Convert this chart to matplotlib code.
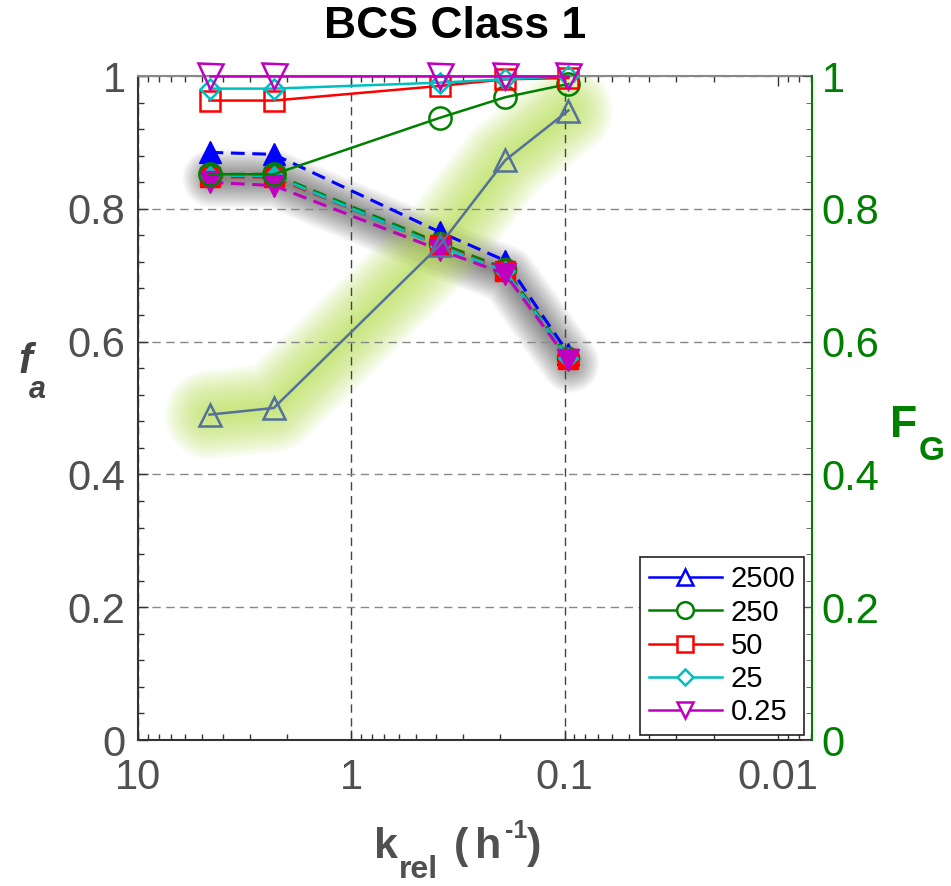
import matplotlib
matplotlib.use('Agg')
import matplotlib.pyplot as plt
from matplotlib.lines import Line2D
from matplotlib.ticker import MultipleLocator, LogLocator, NullFormatter
import matplotlib.transforms as mtransforms

plt.rcParams['font.family'] = ['Liberation Sans', 'DejaVu Sans']

# ---------------- data ----------------
k_rel = [4.62, 2.31, 0.385, 0.19, 0.096]
doses = ['2500', '250', '50', '25', '0.25']
colors = ['#0000ff', '#008000', '#ff0000', '#00bfbf', '#bf00bf']
markers = ['^', 'o', 's', 'D', 'v']

fa_2500 = [0.885, 0.882, 0.765, 0.722, 0.582]
fa_250 = [0.852, 0.852, 0.748, 0.710, 0.576]
fa_50 = [0.848, 0.848, 0.745, 0.707, 0.574]
fa_25 = [0.850, 0.850, 0.744, 0.706, 0.575]
fa_0_25 = [0.840, 0.835, 0.738, 0.702, 0.572]

FG_2500 = [0.490, 0.500, 0.745, 0.873, 0.948]
FG_250 = [0.852, 0.852, 0.937, 0.968, 0.988]
FG_50 = [0.963, 0.963, 0.985, 0.995, 0.997]
FG_25 = [0.981, 0.981, 0.990, 0.995, 1.000]
FG_0_25 = [1.000, 1.000, 1.000, 1.000, 1.000]

fa_series = [fa_2500, fa_250, fa_50, fa_25, fa_0_25]
FG_series = [FG_2500, FG_250, FG_50, FG_25, FG_0_25]

y_ticks = [0, 0.2, 0.4, 0.6, 0.8, 1.0]
y_ticklabels = ['0', '0.2', '0.4', '0.6', '0.8', '1']
x_ticks = [10, 1, 0.1, 0.01]
x_ticklabels = ['10', '1', '0.1', '0.01']

# ---------------- figure ----------------
W, H = 951, 886
fig = plt.figure(figsize=(W / 100, H / 100), dpi=100)
ax = fig.add_axes([138 / W, 1 - 740 / H, 674 / W, 664 / H])
ax.set_xscale('log')
ax.set_xlim(10, 10 ** (1 - 674 / 213.3))
ax.set_ylim(0, 1)

tick_grey = '#505050'

# glows
def glow(x, y, color, maxw, n, alpha, transform=None):
    for i in range(n):
        lw = maxw * (1 - i / n)
        kw = {}
        if transform is not None:
            kw['transform'] = transform
        ax.plot(x, y, color=color, lw=lw, alpha=alpha, solid_capstyle='round',
                solid_joinstyle='round', zorder=1, **kw)

mean_fa = [sum(v) / len(v) for v in zip(*fa_series)]
shadow_tr = mtransforms.offset_copy(ax.transData, fig=fig, x=2, y=-6, units='dots')
glow(k_rel, mean_fa, 'black', 42, 20, 0.026, shadow_tr)
glow(k_rel, FG_2500, '#b8e050', 64, 16, 0.07)

# grid
ax.xaxis.grid(True, which='major', color='#444444', ls=(0, (6, 4)), lw=1.0, zorder=1.5)
ax.yaxis.grid(True, which='major', color='#888888', ls=(0, (6, 4)), lw=1.0, zorder=1.5)

# f_a dashed lines with filled markers
for vals, c, m in zip(fa_series, colors, markers):
    ms = 10 if m == 'D' else (14 if m == 's' else 16)
    ax.plot(k_rel, vals, ls=(0, (4.5, 2.5)), color=c, lw=2.2, marker=m, ms=ms,
            mfc=c, mec=c, zorder=3, clip_on=False)

# F_G solid lines with open markers
fg_line_colors = ['#55709a', colors[1], colors[2], colors[3], colors[4]]
for vals, c, m in zip(FG_series, fg_line_colors, markers):
    ms = {'^': 16, 'o': 16, 's': 14, 'D': 10, 'v': 18}[m]
    ax.plot(k_rel, vals, ls='-', color=c, lw=1.8, marker=m, ms=ms,
            mfc='none', mec=c, mew=1.8, zorder=4, clip_on=False)

# axes styling
ax.set_xticks(x_ticks)
ax.set_xticklabels(x_ticklabels)
ax.xaxis.set_minor_locator(LogLocator(base=10, subs=range(2, 10)))
ax.xaxis.set_minor_formatter(NullFormatter())
ax.set_yticks(y_ticks)
ax.set_yticklabels(y_ticklabels)
ax.yaxis.set_minor_locator(MultipleLocator(0.04))
ax.tick_params(axis='both', which='both', direction='in', top=True, right=False,
               colors='#333333', labelcolor=tick_grey, labelsize=30)
ax.tick_params(axis='both', which='major', length=7, width=1)
ax.tick_params(axis='both', which='minor', length=4, width=1)
ax.tick_params(axis='x', pad=13)
ax.tick_params(axis='y', pad=9)
ax.spines['left'].set_color('#333333')
ax.spines['bottom'].set_color('#333333')
ax.spines['left'].set_linewidth(1.5)
ax.spines['bottom'].set_linewidth(1.5)
ax.spines['top'].set_color('#888888')
ax.spines['top'].set_linewidth(1.5)
ax.spines['right'].set_visible(False)
# no vertical grid line at 0.01 in the reference
ax.xaxis.get_major_ticks()[3].gridline.set_visible(False)

ax2 = ax.twinx()
ax2.set_ylim(0, 1)
ax2.set_yticks(y_ticks)
ax2.set_yticklabels(y_ticklabels)
ax2.yaxis.set_minor_locator(MultipleLocator(0.04))
ax2.tick_params(axis='y', which='both', direction='in', colors='#555555',
                labelcolor='#008000', labelsize=30, pad=7)
ax2.tick_params(axis='y', which='major', length=7)
ax2.tick_params(axis='y', which='minor', length=4)
for s in ['left', 'top', 'bottom']:
    ax2.spines[s].set_visible(False)
ax2.spines['right'].set_color('#008000')
ax2.spines['right'].set_linewidth(1.5)

# legend
handles = [Line2D([0], [0], color=c, lw=1.8, marker=m,
                  ms=(8 if m == 'D' else 12), mfc='white', mec=c, mew=1.8)
           for c, m in zip(colors, markers)]
leg = ax2.legend(handles, doses, loc='lower right', bbox_to_anchor=(0.988, 0.0075),
                 fontsize=21, frameon=True, fancybox=False, framealpha=1,
                 edgecolor='#222222', handlelength=2.5, labelspacing=0.18,
                 borderpad=0.3, handletextpad=0.3, borderaxespad=0)
leg.get_frame().set_linewidth(1.2)

# texts
fig.text(455 / W, 1 - 26 / H, 'BCS Class 1', fontsize=32, fontweight='bold',
         ha='center', va='center', color='black')
fig.text(25 / W, 1 - 362 / H, 'f', fontsize=30, fontweight='bold', fontstyle='italic',
         ha='center', va='center', color='#444444')
fig.text(37 / W, 1 - 390 / H, 'a', fontsize=22, fontweight='bold', fontstyle='italic',
         ha='center', va='center', color='#444444')
fig.text(904 / W, 1 - 426 / H, 'F', fontsize=32, fontweight='bold',
         ha='center', va='center', color='#008000')
fig.text(932 / W, 1 - 452 / H, 'G', fontsize=24, fontweight='bold',
         ha='center', va='center', color='#008000')

# x label: k_rel (h^-1), built from pieces
lab_c = '#505050'
def ptext(x, y, s, size):
    fig.text(x / W, 1 - y / H, s, fontsize=size, fontweight='bold',
             ha='left', va='baseline', color=lab_c)
ptext(374, 858, 'k', 31)
ptext(399, 878, 'rel', 23)
ptext(454, 858, '(', 31)
ptext(475, 858, 'h', 31)
ptext(505, 838, '-1', 18)
ptext(527, 858, ')', 31)

fig.savefig('out.png', dpi=100)
